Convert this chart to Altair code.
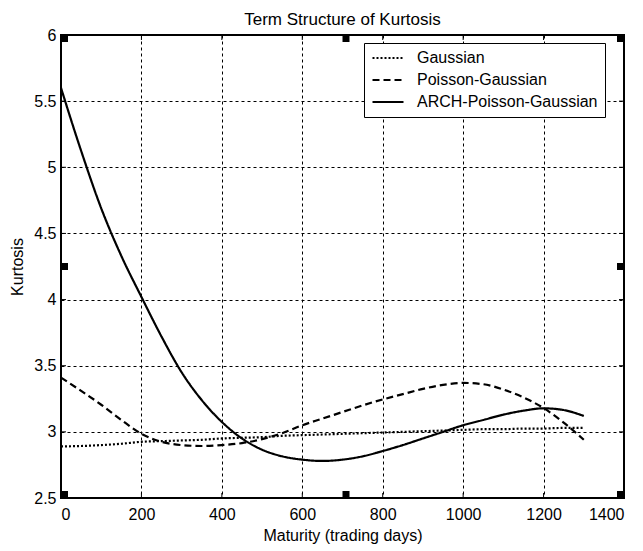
import altair as alt
import pandas as pd

# ---- data ----
maturity = [0, 50, 100, 150, 200, 250, 300, 350, 400, 450, 500, 550, 600, 650,
            700, 750, 800, 850, 900, 950, 1000, 1050, 1100, 1150, 1200, 1250, 1300]
gaussian = [2.89, 2.893, 2.90, 2.91, 2.925, 2.93, 2.935, 2.94, 2.95, 2.955, 2.96, 2.97,
            2.975, 2.98, 2.985, 2.99, 2.995, 3.0, 3.005, 3.01, 3.015, 3.02, 3.02,
            3.025, 3.025, 3.03, 3.03]
poisson_gaussian = [3.41, 3.31, 3.205, 3.09, 2.985, 2.925, 2.90, 2.893, 2.90, 2.915, 2.945,
                    2.99, 3.05, 3.10, 3.15, 3.20, 3.245, 3.285, 3.325, 3.355, 3.37, 3.36,
                    3.32, 3.26, 3.18, 3.07, 2.94]
arch_poisson_gaussian = [5.60, 5.125, 4.69, 4.33, 4.02, 3.72, 3.45, 3.24, 3.075, 2.95,
                         2.865, 2.815, 2.79, 2.78, 2.79, 2.815, 2.855, 2.90, 2.95, 3.00,
                         3.05, 3.09, 3.13, 3.16, 3.178, 3.165, 3.12]
series_names = ["Gaussian", "Poisson-Gaussian", "ARCH-Poisson-Gaussian"]
x_ticks = [0, 200, 400, 600, 800, 1000, 1200, 1400]
y_ticks = [2.5, 3, 3.5, 4, 4.5, 5, 5.5, 6]
handle_x = [0, 700, 1400, 0, 1400, 0, 700, 1400]
handle_y = [6, 6, 6, 4.25, 4.25, 2.5, 2.5, 2.5]

rows = []
for name, vals in zip(series_names, [gaussian, poisson_gaussian, arch_poisson_gaussian]):
    for m, v in zip(maturity, vals):
        rows.append({"Maturity": m, "Kurtosis": v, "Series": name})
df = pd.DataFrame(rows)
xt = pd.DataFrame({"v": x_ticks})
yt = pd.DataFrame({"v": y_ticks})
hd = pd.DataFrame({"hx": handle_x, "hy": handle_y})

FONT = "Liberation Sans"
W, H = 563, 463
xscale = alt.Scale(domain=[0, 1400], nice=False, zero=False)
yscale = alt.Scale(domain=[2.5, 6], nice=False, zero=False)
HX = 7 * 1400 / W   # handle width in data units (7 px)
HY = 7 * 3.5 / H    # handle height in data units (7 px)

lines = alt.Chart(df).mark_line(color="black", interpolate="monotone").encode(
    x=alt.X("Maturity:Q", scale=xscale,
            axis=alt.Axis(values=x_ticks, format="d", title="Maturity (trading days)",
                          labelPadding=8, titlePadding=5)),
    y=alt.Y("Kurtosis:Q", scale=yscale,
            axis=alt.Axis(values=y_ticks, format="~g", title="Kurtosis",
                          labelPadding=5, titlePadding=8)),
    strokeDash=alt.StrokeDash(
        "Series:N",
        scale=alt.Scale(domain=series_names, range=[[2, 2], [7, 4], [1, 0]]),
        legend=alt.Legend(orient="none", legendX=303, legendY=8, title=None,
                          symbolType="stroke", symbolSize=961, symbolStrokeWidth=2,
                          symbolStrokeColor="black", labelFontSize=16, labelFont=FONT,
                          labelColor="black", padding=7, fillColor="white",
                          strokeColor="black", rowPadding=6, clipHeight=16,
                          labelOffset=12, labelLimit=400)),
    strokeWidth=alt.StrokeWidth(
        "Series:N",
        scale=alt.Scale(domain=series_names, range=[2.2, 2.2, 2.6]),
        legend=None),
)

tick_bottom = alt.Chart(xt).mark_rule(color="black", strokeWidth=1).encode(
    x=alt.X("v:Q", scale=xscale), y=alt.value(H), y2=alt.value(H - 5))
tick_top = alt.Chart(xt).mark_rule(color="black", strokeWidth=1).encode(
    x=alt.X("v:Q", scale=xscale), y=alt.value(0), y2=alt.value(5))
tick_left = alt.Chart(yt).mark_rule(color="black", strokeWidth=1).encode(
    y=alt.Y("v:Q", scale=yscale), x=alt.value(0), x2=alt.value(5))
tick_right = alt.Chart(yt).mark_rule(color="black", strokeWidth=1).encode(
    y=alt.Y("v:Q", scale=yscale), x=alt.value(W), x2=alt.value(W - 5))

handles = alt.Chart(hd).transform_calculate(
    hx2=f"datum.hx == 1400 ? datum.hx - {HX} : datum.hx + {HX}",
    hya=f"datum.hy == 6 ? 6 : (datum.hy == 2.5 ? 2.5 : datum.hy - {HY / 2})",
    hyb=f"datum.hy == 6 ? 6 - {HY} : (datum.hy == 2.5 ? 2.5 + {HY} : datum.hy + {HY / 2})",
).mark_rect(color="black", opacity=1).encode(
    x=alt.X("hx:Q", scale=xscale),
    x2="hx2:Q",
    y=alt.Y("hya:Q", scale=yscale),
    y2="hyb:Q",
)

chart = alt.layer(lines, tick_bottom, tick_top, tick_left, tick_right, handles).properties(
    width=W, height=H,
    title=alt.TitleParams("Term Structure of Kurtosis", fontSize=17, font=FONT,
                          fontWeight="normal", offset=8, dy=10, anchor="middle",
                          color="black"),
    autosize=alt.AutoSizeParams(type="none"),
    padding={"left": 53, "top": 27, "right": 11, "bottom": 60},
    background="white",
).configure_view(
    stroke="black", strokeWidth=2
).configure_axis(
    domain=False, ticks=False, grid=True, gridColor="black", gridDash=[3, 3],
    gridOpacity=1, gridWidth=1, labelFont=FONT, labelFontSize=16, labelColor="black",
    titleFont=FONT, titleFontSize=16, titleFontWeight="normal", titleColor="black",
)

chart.save("out.html", embed_options={"renderer": "svg", "actions": False})
